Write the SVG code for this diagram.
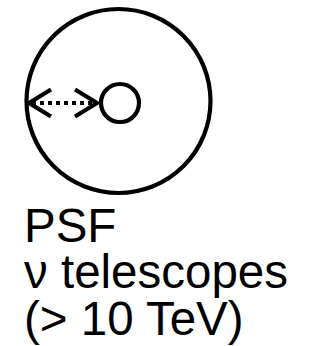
<svg xmlns="http://www.w3.org/2000/svg" width="326" height="346" viewBox="0 0 326 346">
<style>
.c{fill:none;stroke:#000;stroke-width:4.2}
.t{font-family:"Liberation Sans",Arial,sans-serif;font-size:47.5px;fill:#000}
</style>
<rect width="326" height="346" fill="#fff"/>
<g id="outer"><circle class="c" cx="118.5" cy="101" r="92"/></g>
<g id="inner"><circle class="c" cx="120" cy="103" r="19"/></g>
<g id="connectors" fill="none" stroke="#000" stroke-width="4.2">
<line x1="32" y1="103" x2="94" y2="103" stroke-dasharray="4,4"/>
<polyline points="51,89.5 29,103 51,116.5"/>
<polyline points="75,89.5 97,103 75,116.5"/>
</g>
<g id="label">
<text class="t" x="24" y="241.5">PSF</text>
<text class="t" x="24" y="288">ν telescopes</text>
<text class="t" x="24" y="334.5">(&gt; 10 TeV)</text>
</g>
</svg>
